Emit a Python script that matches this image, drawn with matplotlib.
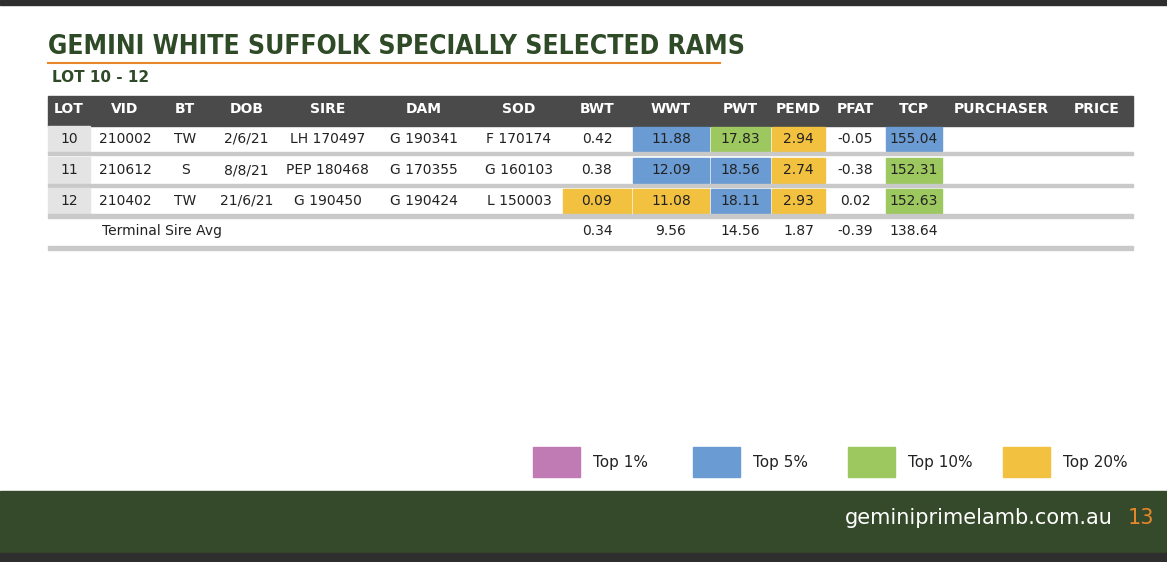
import matplotlib
matplotlib.use("Agg")
import matplotlib.pyplot as plt
from matplotlib.patches import Rectangle

headers = ["LOT","VID","BT","DOB","SIRE","DAM","SOD","BWT","WWT","PWT","PEMD","PFAT","TCP","PURCHASER","PRICE"]
lots = ["10","11","12"]
vids = ["210002","210612","210402"]
bts = ["TW","S","TW"]
dobs = ["2/6/21","8/8/21","21/6/21"]
sires = ["LH 170497","PEP 180468","G 190450"]
dams = ["G 190341","G 170355","G 190424"]
sods = ["F 170174","G 160103","L 150003"]
bwt = ["0.42","0.38","0.09"]
wwt = ["11.88","12.09","11.08"]
pwt = ["17.83","18.56","18.11"]
pemd = ["2.94","2.74","2.93"]
pfat = ["-0.05","-0.38","0.02"]
tcp = ["155.04","152.31","152.63"]
avg_label = "Terminal Sire Avg"
avg_values = ["0.34","9.56","14.56","1.87","-0.39","138.64"]
# highlight tiers per row for BWT, WWT, PWT, PEMD, PFAT, TCP
tiers = [[None,"5","10","20",None,"5"],
         [None,"5","5","20",None,"10"],
         ["20","20","5","20",None,"10"]]
legend_labels = ["Top 1%","Top 5%","Top 10%","Top 20%"]
legend_keys = ["1","5","10","20"]

colors = {"1":"#c07bb4","5":"#6b9bd3","10":"#9dc75f","20":"#f2c13f"}
edges = [48,90,160,210,283,372,476,562,632,710,771,826,885,943,1060,1133]
rows_y = [(126,152),(157,184),(188,214)]

fig = plt.figure(figsize=(11.67,5.62), dpi=100)
ax = fig.add_axes([0,0,1,1])
ax.set_xlim(0,1167); ax.set_ylim(562,0); ax.axis("off")

ax.add_patch(Rectangle((0,0),1167,5,color="#2e2e2e"))
ax.text(48,47,"GEMINI WHITE SUFFOLK SPECIALLY SELECTED RAMS",fontsize=19,fontweight="heavy",
        color="#2f4a27",va="center",ha="left",fontstretch="condensed")
ax.plot([48,720],[63,63],color="#e8862a",lw=1.5)
ax.text(52,77,"LOT 10 - 12",fontsize=11,fontweight="bold",color="#2f4a27",va="center")

ax.add_patch(Rectangle((48,96),1133-48,30,color="#4a4a4a"))
for i,h in enumerate(headers):
    ax.text((edges[i]+edges[i+1])/2,109,h,color="white",fontsize=10,fontweight="bold",ha="center",va="center")

cols = [lots,vids,bts,dobs,sires,dams,sods,bwt,wwt,pwt,pemd,pfat,tcp]
for r,(y0,y1) in enumerate(rows_y):
    ax.add_patch(Rectangle((48,y0),42,y1-y0,color="#e4e4e4"))
    for c,vals in enumerate(cols):
        x0,x1 = edges[c],edges[c+1]
        if c>=7:
            t = tiers[r][c-7]
            if t:
                ax.add_patch(Rectangle((x0+1,y0+1),x1-x0-2,y1-y0-2,color=colors[t]))
        ax.text((x0+x1)/2,(y0+y1)/2,vals[r],fontsize=10,ha="center",va="center",color="#222")
    ax.add_patch(Rectangle((48,y1),1133-48,3 if r<2 else 4,color="#c9c9c9"))
ax.text(102,231,avg_label,fontsize=10,ha="left",va="center",color="#222")
for k,v in enumerate(avg_values):
    ax.text((edges[7+k]+edges[8+k])/2,231,v,fontsize=10,ha="center",va="center",color="#222")
ax.add_patch(Rectangle((48,246),1133-48,4,color="#c9c9c9"))

lx = [533,693,848,1003]
for x,l,k in zip(lx,legend_labels,legend_keys):
    ax.add_patch(Rectangle((x,447),47,30,color=colors[k]))
    ax.text(x+60,462,l,fontsize=11,ha="left",va="center",color="#222")

ax.add_patch(Rectangle((0,491),1167,62,color="#354a2a"))
ax.add_patch(Rectangle((0,553),1167,9,color="#2e2e2e"))
ax.text(1113,518,"geminiprimelamb.com.au",fontsize=15,color="white",ha="right",va="center")
ax.text(1141,518,"13",fontsize=15,color="#e8862a",ha="center",va="center")

fig.savefig("out.png",dpi=100)
